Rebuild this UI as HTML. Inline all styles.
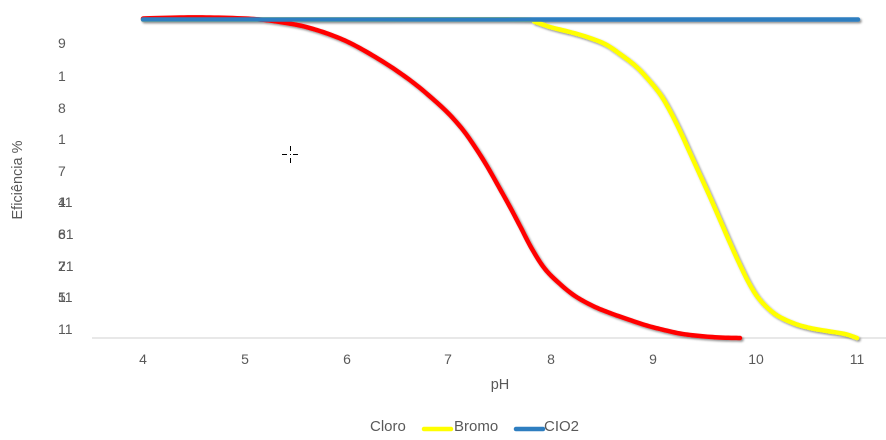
<!DOCTYPE html>
<html><head><meta charset="utf-8"><style>
html,body{margin:0;padding:0;background:#fff;}
svg{display:block;}
text{font-family:"Liberation Sans",Arial,sans-serif;fill:#595959;}
</style></head><body>
<svg width="886" height="440" viewBox="0 0 886 440" xmlns="http://www.w3.org/2000/svg">
<defs>
<filter id="sh" x="-5%" y="-20%" width="110%" height="140%">
<feDropShadow dx="1.5" dy="1.5" stdDeviation="1" flood-color="#000" flood-opacity="0.45"/>
</filter>
</defs>
<rect width="886" height="440" fill="#fff"/>
<line x1="92" y1="338" x2="886" y2="338" stroke="#d9d9d9" stroke-width="1.2"/>
<g font-size="14">
<text x="58" y="48">9</text>
<text x="58" y="81">1</text>
<text x="58" y="113">8</text>
<text x="58" y="144">1</text>
<text x="58" y="176">7</text>
<text x="58" y="207">4</text><text x="58" y="207">11</text>
<text x="58" y="239">6</text><text x="58" y="239">81</text>
<text x="58" y="271">2</text><text x="58" y="271">71</text>
<text x="58" y="302">5</text><text x="58" y="302">11</text>
<text x="58" y="334">11</text>
</g>
<text font-size="14.5" transform="translate(22,180) rotate(-90)" text-anchor="middle">Eficiência %</text>
<g font-size="14" text-anchor="middle">
<text x="143" y="364">4</text>
<text x="245" y="364">5</text>
<text x="347" y="364">6</text>
<text x="448" y="364">7</text>
<text x="551" y="364">8</text>
<text x="653" y="364">9</text>
<text x="756" y="364">10</text>
<text x="857" y="364">11</text>
</g>
<text x="500" y="389" font-size="14.5" text-anchor="middle">pH</text>
<g fill="none" stroke-linejoin="round" stroke-linecap="round" filter="url(#sh)">
<polyline class="sm" stroke="#ffff00" stroke-width="4.5" points="143,19.5 330,19.5 520,19.5 535,22 550,27 570,32 587,37 605,44 620,54 635,65.5 647,78 660,94 670,111 680,131 690,153 700,175 710,197 720,220 730,243 740,265 750,285 760,300 775,314 793,323 810,328 827,331 845,334 857,338"/>
<polyline class="sm" stroke="#ff0000" stroke-width="4.5" points="143,18.5 180,17.5 210,17.5 245,18.5 265,20 280,22 300,25.5 315,29.5 330,34.5 347,41.5 365,51 385,63 400,73 415,84 430,96.5 448,113 463,130 475,147 487,166 500,189 510,207 520,226 532,249 545,269 560,284 575,296 593,306 610,313 627,319 645,325 660,329 680,333.5 700,336 720,337.5 740,338"/>
<line x1="143" y1="19.5" x2="858" y2="19.5" stroke="#2e7ec0" stroke-width="4.5" stroke-linecap="round"/>
</g>
<g stroke="#000" stroke-width="1">
<line x1="282" y1="154.5" x2="287" y2="154.5"/>
<line x1="293" y1="154.5" x2="298" y2="154.5"/>
<line x1="290.5" y1="146" x2="290.5" y2="151"/>
<line x1="290.5" y1="158" x2="290.5" y2="163"/>
<rect x="290" y="154" width="1" height="1" fill="#000" stroke="none"/>
</g>
<g font-size="15">
<text x="370" y="431">Cloro</text>
<line x1="424" y1="429" x2="451" y2="429" stroke="#ffff00" stroke-width="4.5" stroke-linecap="round"/>
<text x="454" y="431">Bromo</text>
<line x1="516" y1="429" x2="543" y2="429" stroke="#2e7ec0" stroke-width="4.5" stroke-linecap="round"/>
<text x="544" y="431">CIO2</text>
</g>
</svg>
<script>
(function(){
var ls=document.querySelectorAll('polyline.sm');
for(var k=0;k<ls.length;k++){
var pl=ls[k];
var pts=pl.getAttribute('points').trim().split(/\s+/).map(function(s){var a=s.split(',');return [+a[0],+a[1]];});
var out=[];
for(var i=0;i<pts.length-1;i++){
var p0=pts[Math.max(i-1,0)],p1=pts[i],p2=pts[i+1],p3=pts[Math.min(i+2,pts.length-1)];
for(var t=0;t<1;t+=0.125){
var t2=t*t,t3=t2*t;
var x=0.5*((2*p1[0])+(-p0[0]+p2[0])*t+(2*p0[0]-5*p1[0]+4*p2[0]-p3[0])*t2+(-p0[0]+3*p1[0]-3*p2[0]+p3[0])*t3);
var y=0.5*((2*p1[1])+(-p0[1]+p2[1])*t+(2*p0[1]-5*p1[1]+4*p2[1]-p3[1])*t2+(-p0[1]+3*p1[1]-3*p2[1]+p3[1])*t3);
out.push(x.toFixed(2)+','+y.toFixed(2));
}
}
out.push(pts[pts.length-1].join(','));
pl.setAttribute('points',out.join(' '));
}
})();
</script>
</body></html>
